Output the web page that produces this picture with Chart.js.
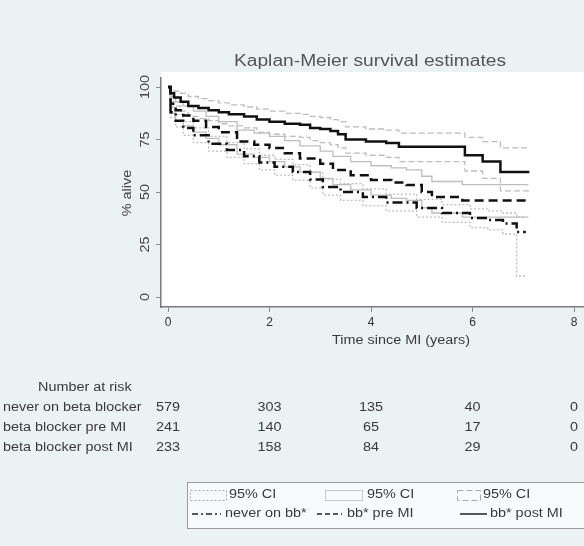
<!DOCTYPE html>
<html>
<head>
<meta charset="utf-8">
<script src="https://cdn.jsdelivr.net/npm/chart.js@4.4.0/dist/chart.umd.min.js"></script>
<style>
html, body { margin: 0; padding: 0; background: #eaf2f3; }
canvas { display: block; }
</style>
</head>
<body>
<canvas id="km" width="584" height="546"></canvas>
<script>
// axis ticks
const xTicks = [0, 2, 4, 6, 8];
const yTicks = [0, 25, 50, 75, 100];

// bb* post MI
const postT  = [0, 0.05, 0.12, 0.25, 0.4, 0.6, 0.8, 1.0, 1.2, 1.5, 1.75, 2.0, 2.3, 2.6, 2.8, 3.0, 3.2, 3.35, 3.5, 3.9, 4.3, 4.55, 5.85, 6.2, 6.55, 7.12];
const postS  = [100, 97, 95, 93, 91, 90, 89, 88, 87, 86, 84.5, 83.5, 82.5, 82, 80.5, 80, 79, 77.5, 75, 74, 73.3, 71.5, 67.5, 64.5, 59.5, 59.5];
const postHi = [100, 99, 98, 97, 95.5, 94.5, 93.5, 92.5, 91.5, 90.5, 89.5, 88.5, 87.5, 87, 86, 85.5, 84.5, 83.5, 81, 80, 79.5, 78, 76, 74, 71, 71];
const postLo = [100, 93, 91, 88.5, 86, 85, 84, 82.5, 81.5, 80.5, 78.5, 77.5, 76.5, 76, 74.5, 73.5, 72.5, 71, 68.5, 67.5, 66.5, 64.5, 60, 56.5, 50.5, 50.5];

// bb* pre MI
const preT  = [0, 0.05, 0.15, 0.3, 0.5, 0.75, 1.0, 1.36, 1.7, 2.0, 2.3, 2.6, 3.0, 3.25, 3.6, 4.0, 4.4, 4.7, 5.0, 5.2, 5.8, 7.1];
const preS  = [100, 92, 89, 86.5, 84, 81, 78.5, 74, 72.5, 71, 68.5, 66, 63.5, 60.5, 58, 55.7, 54.5, 53.3, 50, 47.6, 46, 46];
const preHi = [100, 95.5, 93, 91, 88.5, 86, 83.5, 79.5, 78, 76.5, 74.5, 72, 69.5, 67, 64.5, 62.5, 61.5, 60.5, 57.5, 55, 53.5, 53.5];
const preLo = [100, 87.5, 84, 81.5, 78.5, 75.5, 72.5, 68, 66.5, 64.5, 62, 59.5, 56.5, 53.5, 51, 48.5, 47, 46, 42.5, 40, 38, 38];

// never on bb*
const neverT  = [0, 0.05, 0.15, 0.3, 0.5, 0.8, 1.16, 1.5, 1.8, 2.1, 2.46, 2.8, 3.05, 3.4, 3.84, 4.3, 4.9, 5.4, 5.95, 6.3, 6.6, 6.87, 7.05];
const neverS  = [100, 88, 84, 80.5, 77, 73, 70, 67, 64, 62, 59.5, 56, 52.4, 50, 47.6, 45, 42.4, 40, 37.6, 36.7, 35, 31, 31];
const neverHi = [100, 90.5, 87, 83.5, 80.5, 76.5, 73.5, 70.5, 67.5, 65.5, 63, 59.5, 56, 54, 51.5, 49, 46.5, 44, 42, 41, 40, 38, 38];
const neverLo = [100, 85.5, 81, 77, 73.5, 69.5, 66.5, 63.5, 60.5, 58, 55.5, 52, 48.5, 46, 43.5, 41, 38, 35.5, 33, 32, 30, 10, 10];

// number at risk table
const riskTimes = [0, 2, 4, 6, 8];
const riskGroups = ['never on beta blocker', 'beta blocker pre MI', 'beta blocker post MI'];
const riskNever = [579, 303, 135, 40, 0];
const riskPre   = [241, 140, 65, 17, 0];
const riskPost  = [233, 158, 84, 29, 0];

const legendTop = ['95% CI', '95% CI', '95% CI'];
const legendBottom = ['never on bb*', 'bb* pre MI', 'bb* post MI'];

const FONT = '"Liberation Sans", Arial, sans-serif';
const STRETCH = 1.2;
const CI_COLOR = '#bdbdbd';
const DASH_NEVER = [10, 4, 2, 4];
const DASH_PRE = [9, 5];
const DASH_CI_NEVER = [2, 2];
const DASH_CI_POST = [6, 3];

function pts(t, v) {
    return t.map((x, i) => ({x: x, y: v[i]}));
}

function txt(ctx, s, x, y, size, align, color, rot) {
    ctx.save();
    ctx.font = size + 'px ' + FONT;
    ctx.fillStyle = color || '#3a3a3a';
    ctx.textBaseline = 'middle';
    ctx.textAlign = 'left';
    const w = ctx.measureText(s).width * STRETCH;
    const off = align === 'center' ? -w / 2 : (align === 'right' ? -w : 0);
    ctx.translate(x, y);
    if (rot) ctx.rotate(rot);
    ctx.translate(off, 0);
    ctx.scale(STRETCH, 1);
    ctx.fillText(s, 0, 0);
    ctx.restore();
}

function line(ctx, x1, y1, x2, y2, color, width, dash) {
    ctx.save();
    ctx.strokeStyle = color;
    ctx.lineWidth = width;
    ctx.setLineDash(dash || []);
    ctx.beginPath();
    ctx.moveTo(x1, y1);
    ctx.lineTo(x2, y2);
    ctx.stroke();
    ctx.restore();
}

function rect(ctx, x, y, w, h, color, width, dash) {
    ctx.save();
    ctx.strokeStyle = color;
    ctx.lineWidth = width;
    ctx.setLineDash(dash || []);
    ctx.strokeRect(x, y, w, h);
    ctx.restore();
}

const decor = {
    id: 'decor',
    beforeDraw(chart) {
        const ctx = chart.ctx, a = chart.chartArea;
        ctx.save();
        ctx.fillStyle = '#eaf2f3';
        ctx.fillRect(0, 0, chart.width, chart.height);
        ctx.fillStyle = '#ffffff';
        ctx.fillRect(a.left, a.top - 6, a.right - a.left, a.bottom - a.top + 6);
        ctx.restore();
    },
    afterDraw(chart) {
        const ctx = chart.ctx;
        const xs = chart.scales.x, ys = chart.scales.y;

        txt(ctx, 'Kaplan-Meier survival estimates', 370, 62, 16, 'center', '#555');
        txt(ctx, '% alive', 128, 193, 12, 'center', '#444', -Math.PI / 2);
        yTicks.forEach(v => txt(ctx, String(v), 146, ys.getPixelForValue(v), 12, 'center', '#444', -Math.PI / 2));
        txt(ctx, 'Time since MI (years)', 401, 341, 12, 'center', '#3a3a3a');

        // number at risk
        txt(ctx, 'Number at risk', 38, 388, 12, 'left', '#3a3a3a');
        const rows = [riskNever, riskPre, riskPost];
        rows.forEach((r, i) => {
            const y = 408 + i * 20;
            txt(ctx, riskGroups[i], 3, y, 12, 'left', '#3a3a3a');
            r.forEach((n, j) => txt(ctx, String(n), xs.getPixelForValue(riskTimes[j]), y, 12, 'center', '#3a3a3a'));
        });

        // legend box
        ctx.save();
        ctx.fillStyle = '#f8fbfb';
        ctx.fillRect(187, 482, 410, 46);
        ctx.restore();
        rect(ctx, 187.5, 482.5, 410, 46, '#9a9a9a', 1);

        const r1 = 495, r2 = 514;
        rect(ctx, 190.5, 490.5, 36, 10, '#a8a8a8', 1, DASH_CI_NEVER);
        rect(ctx, 325.5, 490.5, 37, 10, '#c8c8c8', 1);
        rect(ctx, 457.5, 490.5, 23, 10, '#a8a8a8', 1, DASH_CI_POST);
        txt(ctx, legendTop[0], 229, r1, 12, 'left', '#3a3a3a');
        txt(ctx, legendTop[1], 367, r1, 12, 'left', '#3a3a3a');
        txt(ctx, legendTop[2], 483, r1, 12, 'left', '#3a3a3a');

        line(ctx, 192, r2, 221, r2, '#222', 1.5, [6, 3, 2, 3]);
        line(ctx, 317, r2, 342, r2, '#222', 1.5, [5, 3]);
        line(ctx, 460, r2, 487, r2, '#222', 1.5);
        txt(ctx, legendBottom[0], 225, r2, 12, 'left', '#3a3a3a');
        txt(ctx, legendBottom[1], 347, r2, 12, 'left', '#3a3a3a');
        txt(ctx, legendBottom[2], 490, r2, 12, 'left', '#3a3a3a');
    }
};

function survival(data, dash) {
    return {data: data, borderColor: '#111', borderWidth: 2.5, borderDash: dash || [],
            stepped: true, pointRadius: 0, fill: false, tension: 0};
}
function ci(data, dash) {
    return {data: data, borderColor: CI_COLOR, borderWidth: 1.3, borderDash: dash || [],
            stepped: true, pointRadius: 0, fill: false, tension: 0};
}

new Chart(document.getElementById('km'), {
    type: 'line',
    data: {
        datasets: [
            survival(pts(postT, postS)),
            survival(pts(preT, preS), DASH_PRE),
            survival(pts(neverT, neverS), DASH_NEVER),
            ci(pts(postT, postHi), DASH_CI_POST),
            ci(pts(postT, postLo), DASH_CI_POST),
            ci(pts(preT, preHi)),
            ci(pts(preT, preLo)),
            ci(pts(neverT, neverHi), DASH_CI_NEVER),
            ci(pts(neverT, neverLo), DASH_CI_NEVER)
        ]
    },
    options: {
        responsive: false,
        animation: false,
        devicePixelRatio: 1,
        layout: {padding: {top: 78, bottom: 214, left: 0, right: 0}},
        plugins: {legend: {display: false}, tooltip: {enabled: false}},
        scales: {
            x: {
                type: 'linear', min: -0.138, max: 8.197,
                afterFit: s => { s.height = 25; },
                afterBuildTicks: s => { s.ticks = xTicks.map(v => ({value: v})); },
                grid: {drawOnChartArea: false, drawTicks: true, tickLength: 5, color: '#8a8a8a'},
                border: {color: '#7a7a7a', width: 1.5},
                ticks: {color: '#333', font: {size: 12, family: FONT}, padding: 3, maxRotation: 0, autoSkip: false}
            },
            y: {
                type: 'linear', min: -4.76, max: 104.3,
                afterFit: s => { s.width = 161; },
                afterBuildTicks: s => { s.ticks = yTicks.map(v => ({value: v})); },
                grid: {drawOnChartArea: false, drawTicks: true, tickLength: 5, color: '#8a8a8a'},
                border: {color: '#7a7a7a', width: 1.5},
                ticks: {display: false}
            }
        }
    },
    plugins: [decor]
});
</script>
</body>
</html>
